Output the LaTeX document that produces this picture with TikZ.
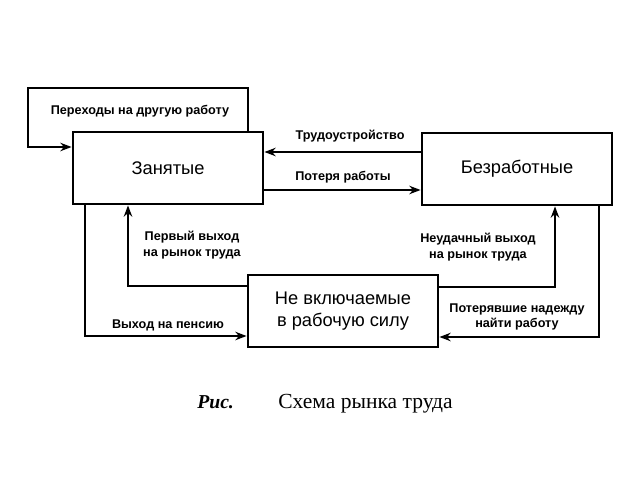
\documentclass[tikz,border=0pt]{standalone}
\usepackage{fontspec}
\setmainfont{Liberation Serif}
\setsansfont{Liberation Sans}
\usetikzlibrary{arrows.meta,positioning}

\begin{document}
\begin{tikzpicture}[x=0.025cm,y=-0.025cm,>={Stealth[length=8pt,width=6pt]},
  statebox/.style={draw,line width=2pt,minimum width=4.75cm,minimum height=1.8cm,
                   align=center,font=\sffamily\fontsize{13}{15.5}\selectfont},
  flow/.style={->,line width=1.3pt},
  flowlabel/.style={align=center,font=\sffamily\bfseries\fontsize{9}{11}\selectfont,inner sep=1pt}]
  \useasboundingbox (0,0) rectangle (638,479);
  %% States
  \node[statebox] (emp)   at (168,168) {Занятые};
  \node[statebox] (unemp) at (517,169) {Безработные};
  \node[statebox] (nlf)   at (343,311) {Не включаемые\\в рабочую силу};
  %% Turning points of the connectors
  \coordinate (loopA)   at (248,88);
  \coordinate (loopB)   at (28,147);
  \coordinate (hire)    at (340,152);
  \coordinate (lose)    at (340,190);
  \coordinate (retire)  at (85,336);
  \coordinate (entry)   at (128,286);
  \coordinate (fail)    at (555,287);
  \coordinate (discour) at (599,337);
  %% Flows
  \draw[flow] (loopA |- emp.north) -- (loopA) -| (loopB) -- (loopB -| emp.west);
  \draw[flow] (hire -| unemp.west) -- (hire -| emp.east);
  \draw[flow] (lose -| emp.east) -- (lose -| unemp.west);
  \draw[flow] (retire |- emp.south) -- (retire) -- (retire -| nlf.west);
  \draw[flow] (entry -| nlf.west) -- (entry) -- (entry |- emp.south);
  \draw[flow] (fail -| nlf.east) -- (fail) -- (fail |- unemp.south);
  \draw[flow] (discour |- unemp.south) -- (discour) -- (discour -| nlf.east);
  %% Labels
  \node[flowlabel] (lblmove)    at (140,111) {Переходы на другую работу};
  \node[flowlabel] (lblhire)    at (350,136) {Трудоустройство};
  \node[flowlabel] (lbllose)    at (343,177) {Потеря работы};
  \node[flowlabel] (lblentry)   at (192,245) {Первый выход\\на рынок труда};
  \node[flowlabel] (lblretire)  at (168,325) {Выход на пенсию};
  \node[flowlabel] (lblfail)    at (478,247) {Неудачный выход\\на рынок труда};
  \node[flowlabel] (lbldiscour) at (517,317) {Потерявшие надежду\\найти работу};
  %% Caption
  \node[anchor=base west,font=\fontsize{14}{16}\selectfont\bfseries\itshape,inner sep=0pt]
        (figtag) at (197,408) {Рис.};
  \node[anchor=base west,font=\fontsize{15.3}{17}\selectfont,inner sep=0pt]
        (figtitle) at (278,408) {Схема рынка труда};
\end{tikzpicture}
\end{document}
